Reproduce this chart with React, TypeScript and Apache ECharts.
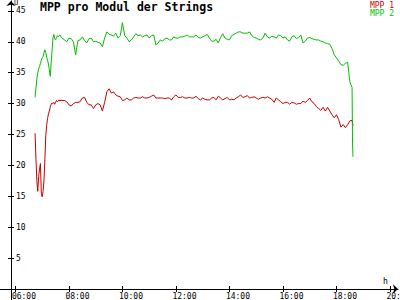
import React, { useEffect, useRef } from "react";
import * as echarts from "echarts";

const times = [
  "06:44","06:46","06:48","06:50","06:52","06:54","06:56","06:58","07:00","07:02",
  "07:04","07:06","07:08","07:10","07:12","07:14","07:16","07:18","07:20","07:22",
  "07:24","07:26","07:28","07:30","07:32","07:34","07:36","07:38","07:40","07:42","07:44",
  "07:50","07:55",
  "08:00","08:05","08:10","08:15","08:20","08:25","08:30","08:35","08:40","08:45","08:50","08:55",
  "09:00","09:05","09:10","09:15","09:20","09:25","09:30","09:35","09:40","09:45","09:50","09:55",
  "10:00","10:05","10:10","10:15","10:20","10:25","10:30","10:35","10:40","10:45","10:50","10:55",
  "11:00","11:05","11:10","11:15","11:20","11:25","11:30","11:35","11:40","11:45","11:50","11:55",
  "12:00","12:05","12:10","12:15","12:20","12:25","12:30","12:35","12:40","12:45","12:50","12:55",
  "13:00","13:05","13:10","13:15","13:20","13:25","13:30","13:35","13:40","13:45","13:50","13:55",
  "14:00","14:05","14:10","14:15","14:20","14:25","14:30","14:35","14:40","14:45","14:50","14:55",
  "15:00","15:05","15:10","15:15","15:20","15:25","15:30","15:35","15:40","15:45","15:50","15:55",
  "16:00","16:05","16:10","16:15","16:20","16:25","16:30","16:35","16:40","16:45","16:50","16:55",
  "17:00","17:05","17:10","17:15","17:20","17:25","17:30","17:35","17:40","17:45","17:50","17:55",
  "18:00","18:05","18:10","18:15","18:20","18:25","18:30","18:35","18:36","18:37"
];

const mpp1 = [
  25.2, 21.0, 17.5, 15.8, 18.2, 19.4, 20.3, 15.5, 14.9, 15.8,
  17.6, 21.0, 24.8, 26.5, 27.6, 28.3, 28.8, 29.4, 29.9, 30.1,
  30.0, 30.2, 29.9, 30.2, 30.5, 30.3, 30.4, 30.6, 30.4, 30.6, 30.5,
  30.5, 30.3,
  29.8, 29.6, 30.0, 30.2, 30.2, 30.3, 30.9, 31.0, 30.2, 29.8, 29.8, 29.2,
  29.8, 30.0, 29.8, 28.8, 30.2, 31.9, 32.4, 31.7, 31.9, 31.4, 31.2, 31.1,
  30.5, 30.6, 30.9, 30.6, 30.6, 30.9, 31.0, 30.9, 30.9, 31.1, 30.9, 30.9,
  31.0, 31.2, 31.4, 30.9, 30.9, 30.9, 30.9, 30.8, 30.9, 30.9, 30.6, 31.1,
  31.4, 31.0, 31.0, 31.1, 30.9, 30.9, 31.0, 30.9, 30.9, 31.2, 30.8, 30.6,
  30.9, 30.7, 30.6, 30.6, 30.9, 31.0, 30.6, 31.2, 30.9, 30.6, 30.8, 31.0,
  30.6, 30.7, 30.6, 30.9, 31.1, 31.4, 31.0, 31.1, 31.3, 30.9, 31.0, 31.1,
  30.9, 30.7, 30.9, 31.0, 30.9, 31.1, 30.9, 30.7, 30.2, 30.9, 30.6, 30.3,
  30.0, 30.2, 30.2, 29.9, 30.2, 30.1, 29.9, 30.0, 30.0, 30.4, 30.2, 30.5,
  30.9, 30.3, 30.0, 29.5, 29.2, 28.9, 29.4, 28.8, 29.4, 28.8, 28.2, 27.7,
  28.2, 27.4, 26.2, 26.6, 26.1, 26.6, 27.2, 27.3, 27.3, 26.4
];

const mpp2 = [
  31.0, 32.5, 34.0, 35.0, 35.6, 36.0, 36.5, 37.0, 37.4, 37.6,
  38.2, 38.7, 38.3, 37.5, 37.0, 36.4, 35.5, 34.4, 36.5, 38.5,
  40.5, 41.2, 40.5, 40.3, 40.7, 41.0, 40.8, 41.0, 41.1, 40.8, 40.6,
  40.3, 40.0,
  40.6, 40.5, 40.0, 37.9, 40.2, 40.3, 40.8, 40.2, 39.8, 40.5, 40.6, 40.0,
  40.1, 39.9, 39.8, 39.2, 40.6, 41.6, 41.2, 41.1, 40.9, 41.4, 40.6, 41.0,
  43.1, 41.0, 40.6, 40.0, 40.3, 40.8, 41.3, 41.0, 41.1, 40.8, 41.0, 41.1,
  40.6, 41.0, 41.1, 39.5, 39.8, 40.3, 40.1, 40.5, 40.6, 40.3, 40.3, 40.8,
  40.6, 40.6, 40.8, 40.8, 40.9, 41.1, 40.8, 40.8, 40.8, 41.1, 40.7, 40.6,
  40.8, 41.0, 41.2, 40.6, 40.1, 40.1, 40.4, 39.8, 40.7, 41.3, 40.6, 40.4,
  40.3, 41.0, 41.2, 41.4, 41.6, 41.6, 41.4, 41.4, 41.4, 41.6, 41.0, 40.7,
  40.6, 40.4, 40.3, 40.6, 41.4, 40.8, 40.6, 40.9, 40.8, 40.6, 41.1, 41.0,
  40.6, 40.8, 40.3, 40.1, 40.8, 41.0, 40.5, 40.7, 41.1, 39.8, 40.1, 40.6,
  40.7, 40.5, 40.4, 40.3, 40.3, 40.1, 40.0, 39.8, 39.7, 39.6, 38.9, 37.9,
  37.4, 36.9, 36.3, 36.2, 36.5, 36.7, 33.5, 32.6, 23.6, 21.4
];

const seriesNames = ["MPP 1", "MPP 2"];
const seriesColors = ["#c80000", "#00c000"];
const tickHours = [6, 8, 10, 12, 14, 16, 18, 20];
const yTicks = [5, 10, 15, 20, 25, 30, 35, 40, 45];

const toMin = (t: string) => {
  const [h, m] = t.split(":").map(Number);
  return h * 60 + m;
};

export default function App() {
  const ref = useRef<HTMLDivElement>(null);
  useEffect(() => {
    const chart = echarts.init(ref.current!, null, { renderer: "svg" });
    const font = "DejaVu Sans Mono";
    const tickMin = tickHours.map((h) => h * 60);
    const labelMin = tickMin.map((v) => v - 8);
    const axisLineStyle = { color: "#000", width: 1 };
    const xCommon = {
      type: "value",
      position: "bottom",
      min: 350,
      max: 1218,
      splitLine: { show: false },
    };
    const yCommon = {
      type: "value",
      position: "left",
      min: 0,
      max: 46.6,
      splitLine: { show: false },
    };
    chart.setOption({
      animation: false,
      backgroundColor: "#fff",
      title: {
        text: "MPP pro Modul der Strings",
        left: 40,
        top: 1,
        padding: 0,
        textStyle: { fontFamily: font, fontSize: 11.5, fontWeight: "bold", color: "#000" },
      },
      legend: {
        orient: "vertical",
        right: 6,
        top: 1,
        padding: 0,
        itemGap: 0,
        itemWidth: 0,
        itemHeight: 8,
        icon: "none",
        selectedMode: false,
        textStyle: { fontFamily: font, fontSize: 8, lineHeight: 8 },
        data: seriesNames.map((n, i) => ({ name: n, textStyle: { color: seriesColors[i] } })),
      },
      grid: { left: 11, right: 2, top: 1, bottom: 11, containLabel: false, outerBoundsMode: "none" },
      xAxis: [
        {
          ...xCommon,
          axisLine: {
            show: true,
            onZero: false,
            lineStyle: axisLineStyle,
            symbol: ["none", "arrow"],
            symbolSize: [7, 5],
          },
          axisTick: { show: true, inside: true, length: 3, customValues: tickMin, lineStyle: axisLineStyle },
          axisLabel: {
            show: true,
            customValues: labelMin,
            align: "left",
            margin: 3,
            fontFamily: font,
            fontSize: 8,
            lineHeight: 8,
            color: "#000",
            formatter: (v: number) => {
              const h = Math.round((v + 8) / 60);
              return (h < 10 ? "0" : "") + h + ":00";
            },
          },
        },
        {
          ...xCommon,
          axisLine: { show: false, onZero: false },
          axisTick: { show: true, inside: false, length: 3, customValues: tickMin, lineStyle: axisLineStyle },
          axisLabel: { show: false },
        },
      ],
      yAxis: [
        {
          ...yCommon,
          axisLine: {
            show: true,
            onZero: false,
            lineStyle: axisLineStyle,
            symbol: ["none", "arrow"],
            symbolSize: [7, 5],
          },
          axisTick: { show: true, inside: true, length: 3, customValues: yTicks, lineStyle: axisLineStyle },
          axisLabel: {
            show: true,
            inside: true,
            customValues: yTicks,
            margin: 5,
            fontFamily: font,
            fontSize: 8,
            lineHeight: 8,
            color: "#000",
          },
        },
        {
          ...yCommon,
          axisLine: { show: false, onZero: false },
          axisTick: { show: true, inside: false, length: 3, customValues: yTicks, lineStyle: axisLineStyle },
          axisLabel: { show: false },
        },
      ],
      graphic: [
        {
          type: "text",
          left: 14,
          top: -1,
          style: { text: "U", font: `7px '${font}'`, lineHeight: 7, fill: "#000" },
        },
        {
          type: "text",
          left: 383,
          top: 277,
          style: { text: "h", font: `8px '${font}'`, fill: "#000" },
        },
        {
          type: "line",
          shape: { x1: 0, y1: 289.5, x2: 11, y2: 289.5 },
          style: { stroke: "#000", lineWidth: 1 },
        },
        {
          type: "line",
          shape: { x1: 11.5, y1: 289, x2: 11.5, y2: 300 },
          style: { stroke: "#000", lineWidth: 1 },
        },
      ],
      series: [mpp1, mpp2].map((vals, i) => ({
        name: seriesNames[i],
        type: "line",
        xAxisIndex: 0,
        yAxisIndex: 0,
        showSymbol: false,
        symbol: "none",
        color: seriesColors[i],
        lineStyle: { width: 1, color: seriesColors[i] },
        data: times.map((t, k) => [toMin(t), vals[k]]),
      })),
    });
    return () => chart.dispose();
  }, []);
  return (
    <div
      ref={ref}
      style={{ position: "fixed", left: 0, top: 0, width: 400, height: 300, background: "#fff" }}
    />
  );
}
